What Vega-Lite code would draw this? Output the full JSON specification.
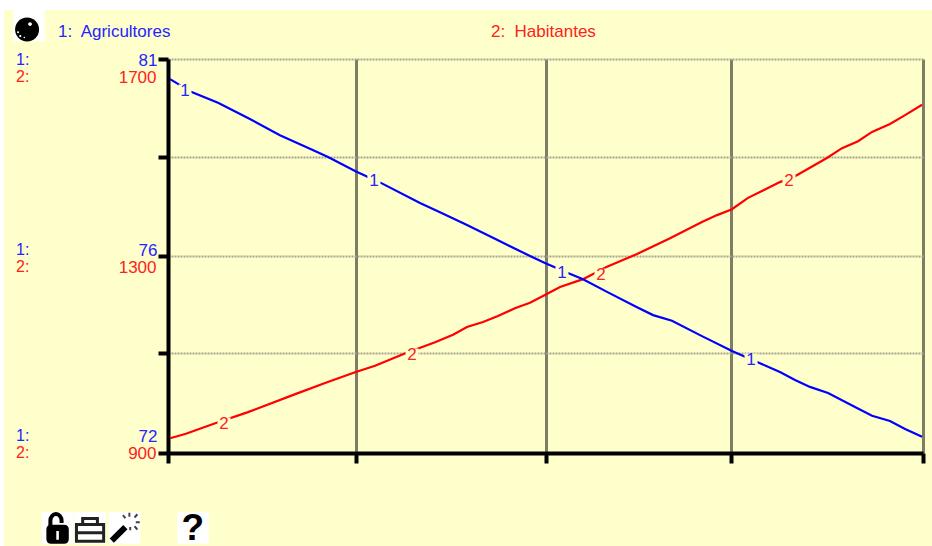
{
"$schema":"https://vega.github.io/schema/vega-lite/v6.json",
"width":755,"height":394,
"autosize":{"type":"none"},
"padding":{"left":168,"top":59,"right":9,"bottom":93},
"background":"#FFFFCC",
"config":{"view":{"stroke":null},"text":{"font":"Liberation Sans"},"axis":{"labelFont":"Liberation Sans"}},
"datasets":{
"agricultores":[
{"t":0.011,"v":80.54},{"t":0.122,"v":80.25},{"t":0.265,"v":80.0},{"t":0.434,"v":79.63},{"t":0.593,"v":79.26},{"t":0.758,"v":78.94},{"t":0.848,"v":78.76},{"t":0.991,"v":78.44},{"t":1.128,"v":78.17},{"t":1.335,"v":77.71},{"t":1.441,"v":77.5},{"t":1.584,"v":77.21},{"t":1.743,"v":76.87},{"t":1.918,"v":76.5},{"t":1.997,"v":76.34},{"t":2.119,"v":76.11},{"t":2.199,"v":75.97},{"t":2.326,"v":75.68},{"t":2.485,"v":75.33},{"t":2.57,"v":75.15},{"t":2.67,"v":75.02},{"t":2.829,"v":74.67},{"t":2.988,"v":74.33},{"t":3.121,"v":74.08},{"t":3.242,"v":73.85},{"t":3.322,"v":73.67},{"t":3.401,"v":73.51},{"t":3.497,"v":73.37},{"t":3.65,"v":73.03},{"t":3.73,"v":72.85},{"t":3.825,"v":72.73},{"t":3.905,"v":72.55},{"t":3.995,"v":72.37}
],
"habitantes":[
{"t":0.011,"v":930},{"t":0.095,"v":939},{"t":0.254,"v":961},{"t":0.424,"v":983},{"t":0.678,"v":1020},{"t":0.832,"v":1042},{"t":0.991,"v":1064},{"t":1.097,"v":1077},{"t":1.261,"v":1103},{"t":1.415,"v":1125},{"t":1.51,"v":1140},{"t":1.584,"v":1156},{"t":1.669,"v":1166},{"t":1.748,"v":1178},{"t":1.838,"v":1194},{"t":1.918,"v":1205},{"t":1.997,"v":1221},{"t":2.077,"v":1237},{"t":2.199,"v":1253},{"t":2.326,"v":1278},{"t":2.485,"v":1304},{"t":2.66,"v":1336},{"t":2.829,"v":1369},{"t":2.909,"v":1383},{"t":2.988,"v":1395},{"t":3.073,"v":1418},{"t":3.242,"v":1450},{"t":3.322,"v":1462},{"t":3.491,"v":1499},{"t":3.571,"v":1519},{"t":3.656,"v":1533},{"t":3.73,"v":1552},{"t":3.825,"v":1568},{"t":3.905,"v":1586},{"t":3.995,"v":1607}
],
"marcas1":[{"t":0.09,"v":80.27,"s":"1"},{"t":1.091,"v":78.21,"s":"1"},{"t":2.087,"v":76.11,"s":"1"},{"t":3.089,"v":74.12,"s":"1"}],
"marcas2":[{"t":0.297,"v":959,"s":"2"},{"t":1.293,"v":1099,"s":"2"},{"t":2.294,"v":1261,"s":"2"},{"t":3.29,"v":1452,"s":"2"}],
"margen":[{"a":-0.95,"b":4.2,"c":1799.5,"d":1900},{"a":-0.95,"b":-0.869,"c":600,"d":1900}],
"iconos":[{"t":-0.736,"v":1768},{"t":-0.585,"v":748},{"t":-0.413,"v":748},{"t":-0.23,"v":748},{"t":0.132,"v":748}]
},
"layer":[
{"layer":[
{"data":{"name":"margen"},"mark":{"type":"rect","fill":"#FFFFFF","clip":false},
 "encoding":{"x":{"field":"a","type":"quantitative","scale":{"domain":[0,4]},
   "axis":{"values":[0,0.995,2,2.985,4],"title":null,"labels":false,"domainColor":"#000000","domainWidth":4,"tickColor":"#000000","tickWidth":4,"tickSize":10,"grid":true,"gridColor":"#7E7E66","gridWidth":3,"zindex":0}},
  "x2":{"field":"b"},
  "y":{"field":"c","type":"quantitative","scale":{"domain":[900,1700]},
   "axis":{"orient":"left","values":[1700,1501,1300,1103,900],"title":null,"labelExpr":"datum.value==1501||datum.value==1103?'':datum.label","format":"d","labelColor":"#FF2020","labelFontSize":17,"labelPadding":2,"labelOverlap":false,"labelBound":false,"labelFlush":false,
     "labelOffset":{"condition":[{"test":"datum.value==1700","value":18},{"test":"datum.value==1300","value":11}],"value":0},
     "domainColor":"#000000","domainWidth":4,"tickColor":"#000000","tickWidth":4,"tickSize":10,"grid":true,"gridColor":"#A5A58C","gridWidth":2,"gridDash":[2,1]}},
  "y2":{"field":"d"}}},
{"data":{"name":"habitantes"},"mark":{"type":"line","color":"#FF0000","strokeWidth":2.2,"interpolate":"linear"},
 "encoding":{"x":{"field":"t","type":"quantitative"},"y":{"field":"v","type":"quantitative"}}},
{"data":{"name":"marcas2"},"mark":{"type":"point","shape":"square","filled":true,"fill":"#FFFFCC","opacity":1,"size":170,"strokeWidth":0},
 "encoding":{"x":{"field":"t","type":"quantitative"},"y":{"field":"v","type":"quantitative"}}},
{"data":{"name":"marcas2"},"mark":{"type":"text","color":"#FF2020","fontSize":17,"baseline":"middle","align":"center"},
 "encoding":{"x":{"field":"t","type":"quantitative"},"y":{"field":"v","type":"quantitative"},"text":{"field":"s"}}},
{"data":{"values":[{"t":1.711,"v":1755,"s":"2:\u00a0 Habitantes"}]},"mark":{"type":"text","color":"#FF2020","fontSize":17,"baseline":"middle","align":"left","clip":false},
 "encoding":{"x":{"field":"t","type":"quantitative"},"y":{"field":"v","type":"quantitative"},"text":{"field":"s"}}},
{"data":{"values":[{"t":-0.583,"v":1755,"s":"1:\u00a0 Agricultores"}]},"mark":{"type":"text","color":"#2424FF","fontSize":17,"baseline":"middle","align":"left"},
 "encoding":{"x":{"field":"t","type":"quantitative"},"y":{"field":"v","type":"quantitative"},"text":{"field":"s"}}},
{"data":{"values":[{"t":-0.805,"v":1698,"s":"1:"},{"t":-0.805,"v":1312,"s":"1:"},{"t":-0.805,"v":935,"s":"1:"}]},"mark":{"type":"text","color":"#2424FF","fontSize":16,"baseline":"middle","align":"left"},
 "encoding":{"x":{"field":"t","type":"quantitative"},"y":{"field":"v","type":"quantitative"},"text":{"field":"s"}}},
{"data":{"values":[{"t":-0.805,"v":1663,"s":"2:"},{"t":-0.805,"v":1278,"s":"2:"},{"t":-0.805,"v":900,"s":"2:"}]},"mark":{"type":"text","color":"#FF2020","fontSize":16,"baseline":"middle","align":"left"},
 "encoding":{"x":{"field":"t","type":"quantitative"},"y":{"field":"v","type":"quantitative"},"text":{"field":"s"}}},
{"data":{"name":"iconos"},"mark":{"type":"point","shape":"square","filled":true,"fill":"#FFFFFF","opacity":1,"size":1000,"strokeWidth":0},
 "encoding":{"x":{"field":"t","type":"quantitative"},"y":{"field":"v","type":"quantitative"}}},
{"data":{"values":[{"t":-0.736,"v":1768}]},"mark":{"type":"point","filled":true,"opacity":1,"fill":"#000000","strokeWidth":0,"size":1024,"shape":"M-0.875 0.25A0.75 0.75 0 1 1 0.625 0.25A0.75 0.75 0 1 1 -0.875 0.25Z"},
 "encoding":{"x":{"field":"t","type":"quantitative"},"y":{"field":"v","type":"quantitative"}}},
{"data":{"values":[{"t":-0.736,"v":1768}]},"mark":{"type":"point","filled":true,"opacity":1,"fill":"#FFFFFF","strokeWidth":0,"size":1024,"shape":"M-0.06 -0.09A0.12 0.12 0 1 1 0.18 -0.09A0.12 0.12 0 1 1 -0.06 -0.09ZM-0.62 0.66A0.07 0.07 0 1 1 -0.48 0.66A0.07 0.07 0 1 1 -0.62 0.66ZM-0.75 0.42A0.06 0.06 0 1 1 -0.63 0.42A0.06 0.06 0 1 1 -0.75 0.42ZM-0.35 0.75A0.05 0.05 0 1 1 -0.25 0.75A0.05 0.05 0 1 1 -0.35 0.75Z"},
 "encoding":{"x":{"field":"t","type":"quantitative"},"y":{"field":"v","type":"quantitative"}}},
{"data":{"values":[{"t":-0.585,"v":748}]},"mark":{"type":"point","filled":true,"opacity":1,"fill":"#000000","strokeWidth":0,"size":1024,"shape":"M-0.7 0.1Q-0.7 -0.2 -0.4 -0.2H0.4Q0.7 -0.2 0.7 0.1V0.7Q0.7 1 0.4 1H-0.4Q-0.7 1 -0.7 0.7ZM-0.08 0.2V0.75H0.08V0.2Z"},
 "encoding":{"x":{"field":"t","type":"quantitative"},"y":{"field":"v","type":"quantitative"}}},
{"data":{"values":[{"t":-0.585,"v":748}]},"mark":{"type":"point","filled":false,"opacity":1,"stroke":"#000000","strokeWidth":4,"size":1024,"shape":"M-0.45 -0.1V-0.45A0.35 0.42 0 0 1 0.25 -0.45V-0.3"},
 "encoding":{"x":{"field":"t","type":"quantitative"},"y":{"field":"v","type":"quantitative"}}},
{"data":{"values":[{"t":-0.413,"v":748}]},"mark":{"type":"point","filled":false,"opacity":1,"stroke":"#222222","strokeWidth":3,"size":1024,"shape":"M-0.46 -0.21V-0.58H0.46V-0.21M-0.85 -0.21H0.85V0.83H-0.85ZM-0.85 0.31H0.85"},
 "encoding":{"x":{"field":"t","type":"quantitative"},"y":{"field":"v","type":"quantitative"}}},
{"data":{"values":[{"t":-0.23,"v":748}]},"mark":{"type":"point","filled":false,"opacity":1,"stroke":"#000000","strokeWidth":6,"size":1024,"shape":"M-0.8 0.8L0.05 -0.05"},
 "encoding":{"x":{"field":"t","type":"quantitative"},"y":{"field":"v","type":"quantitative"}}},
{"data":{"values":[{"t":-0.23,"v":748}]},"mark":{"type":"point","filled":false,"opacity":1,"stroke":"#444444","strokeWidth":2,"size":1024,"shape":"M0.3 -0.95V-0.7M0.8 -0.85L0.62 -0.65M0.95 -0.35H0.7M0.8 0.1L0.62 -0.1M0.35 0.15V-0.05M-0.1 -0.8L0.05 -0.6"},
 "encoding":{"x":{"field":"t","type":"quantitative"},"y":{"field":"v","type":"quantitative"}}},
{"data":{"values":[{"t":0.132,"v":746,"s":"?"}]},"mark":{"type":"text","color":"#000000","fontSize":37,"fontWeight":"bold","baseline":"middle","align":"center"},
 "encoding":{"x":{"field":"t","type":"quantitative"},"y":{"field":"v","type":"quantitative"},"text":{"field":"s"}}}
]},
{"layer":[
{"data":{"name":"agricultores"},"mark":{"type":"line","color":"#0000FF","strokeWidth":2.2,"interpolate":"linear"},
 "encoding":{"x":{"field":"t","type":"quantitative"},
  "y":{"field":"v","type":"quantitative","scale":{"domain":[72,81]},
   "axis":{"orient":"left","values":[72,76.5,81],"title":null,"labelExpr":"datum.value==76.5?'76':datum.label","format":"d","labelColor":"#2424FF","labelFontSize":17,"labelPadding":11,"labelOverlap":false,"labelBound":false,"labelFlush":false,"domain":false,"ticks":false,"grid":false,
     "labelOffset":{"condition":[{"test":"datum.value==81","value":1},{"test":"datum.value==76.5","value":-6},{"test":"datum.value==72","value":-17}],"value":0}}}}},
{"data":{"name":"marcas1"},"mark":{"type":"point","shape":"square","filled":true,"fill":"#FFFFCC","opacity":1,"size":170,"strokeWidth":0},
 "encoding":{"x":{"field":"t","type":"quantitative"},"y":{"field":"v","type":"quantitative"}}},
{"data":{"name":"marcas1"},"mark":{"type":"text","color":"#2424FF","fontSize":17,"baseline":"middle","align":"center"},
 "encoding":{"x":{"field":"t","type":"quantitative"},"y":{"field":"v","type":"quantitative"},"text":{"field":"s"}}}
]}
],
"resolve":{"scale":{"y":"independent"},"axis":{"y":"independent"}}
}
